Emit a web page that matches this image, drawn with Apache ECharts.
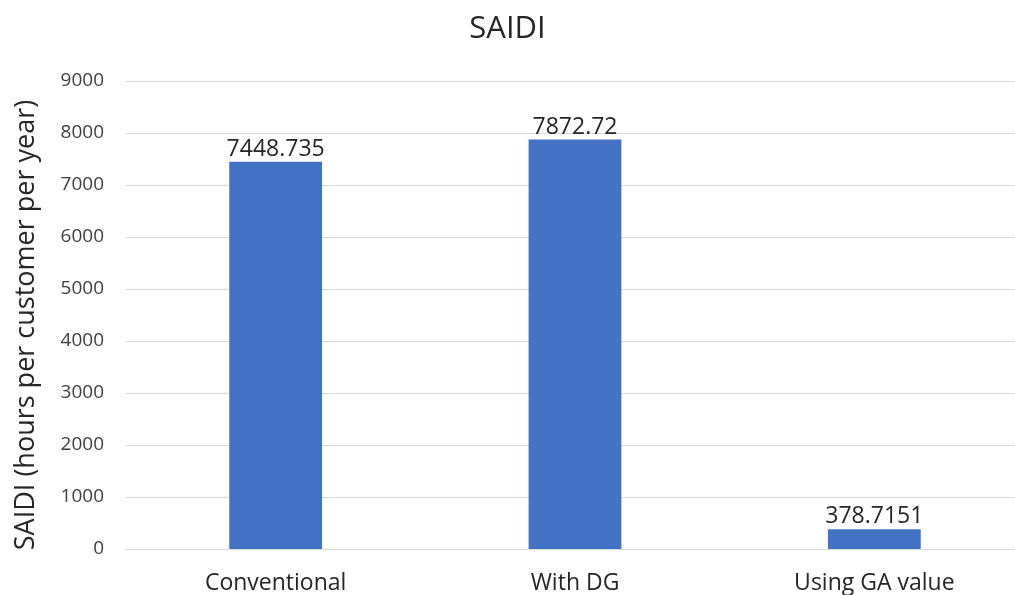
<!DOCTYPE html>
<html>
<head>
<meta charset="utf-8">
<script src="https://cdn.jsdelivr.net/npm/echarts@6/dist/echarts.min.js"></script>
<style>
  html, body { margin: 0; padding: 0; background: #fff; }
  #chart { width: 1015px; height: 595px; }
</style>
</head>
<body>
<div id="chart"></div>
<script>
  // 数据
  const categories = ['Conventional', 'With DG', 'Using GA value'];
  const saidiValues = [7448.735, 7872.72, 378.7151];
  const yTicks = { min: 0, max: 9000, interval: 1000 };

  const fontName = '"Open Sans", sans-serif';

  let mychart = echarts.init(document.getElementById('chart'));
  let options = {
    animation: false,
    title: {
      text: 'SAIDI',
      left: 'center',
      top: 9,
      textStyle: {
        fontFamily: fontName,
        fontSize: 31,
        fontWeight: 'normal',
        color: '#262626'
      }
    },
    // 右边被裁掉一点，所以用 width 而不是 right
    grid: {
      left: 126,
      width: 898,
      top: 81,
      bottom: 46,
      containLabel: false,
      outerBoundsMode: 'none'
    },
    xAxis: {
      type: 'category',
      data: categories,
      axisTick: { show: false },
      axisLine: { lineStyle: { color: '#d9d9d9', width: 1 } },
      axisLabel: {
        margin: 23,
        fontFamily: fontName,
        fontSize: 23,
        color: '#262626'
      }
    },
    yAxis: {
      type: 'value',
      min: yTicks.min,
      max: yTicks.max,
      interval: yTicks.interval,
      name: 'SAIDI (hours per customer per year)',
      nameLocation: 'middle',
      nameGap: 86,
      nameTextStyle: {
        fontFamily: fontName,
        fontSize: 27,
        color: '#262626',
        padding: [0, 20, 0, 0]
      },
      axisLine: { show: false },
      axisTick: { show: false },
      axisLabel: {
        margin: 22,
        fontFamily: fontName,
        fontSize: 19,
        color: '#404040',
        formatter: v => String(v)
      },
      splitLine: { lineStyle: { color: '#d9d9d9', width: 1 } }
    },
    series: [{
      name: 'SAIDI',
      type: 'bar',
      data: saidiValues,
      barWidth: '31%',
      itemStyle: { color: '#4472c4' },
      label: {
        show: true,
        position: 'top',
        distance: 1,
        fontFamily: fontName,
        fontSize: 23,
        color: '#262626',
        formatter: p => String(p.value)
      }
    }]
  };
  mychart.setOption(options);
</script>
</body>
</html>
